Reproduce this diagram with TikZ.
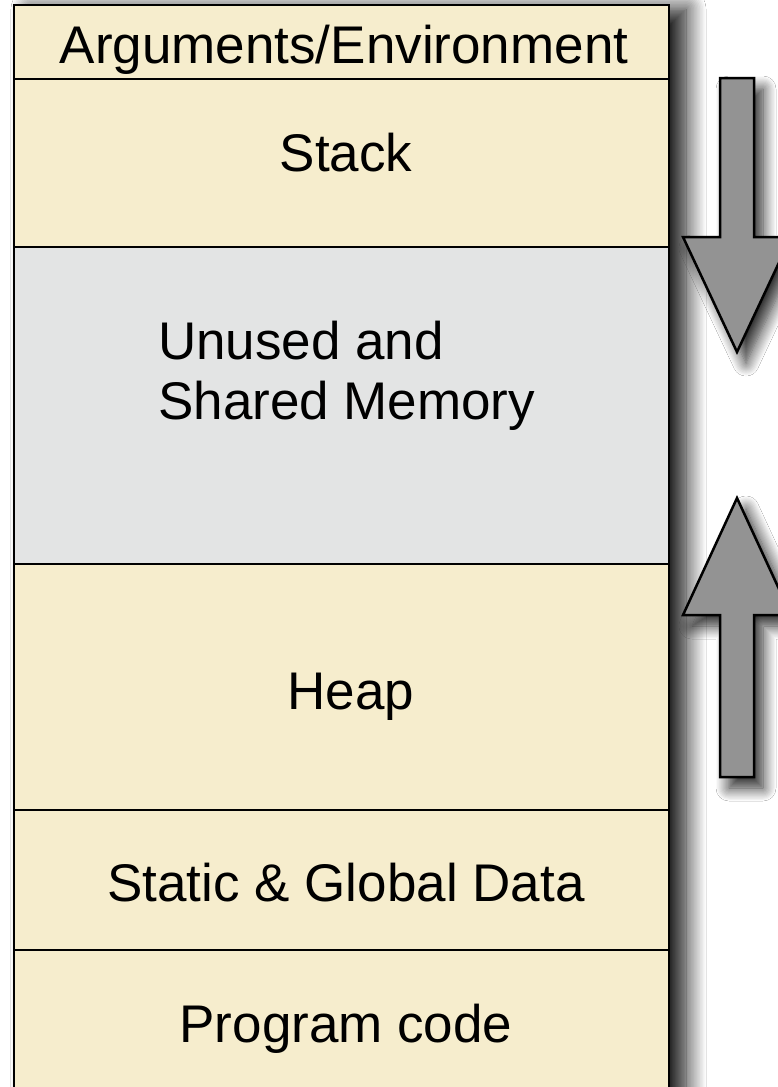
\documentclass[tikz,border=0pt]{standalone}
\usepackage{fontspec}
\setmainfont{Liberation Sans}
\usetikzlibrary{shadows.blur}
\definecolor{cream}{HTML}{F6EDCD}
\definecolor{unusedgray}{HTML}{E3E4E4}
\definecolor{arrowgray}{HTML}{939393}
\tikzset{
  x=1pt, y=-1pt,
  region/.style={draw=black, line width=2.5pt},
  lbl/.style={font=\fontsize{53}{60}\selectfont, inner sep=0pt, anchor=base},
  bigarrow/.style={fill=arrowgray, draw=black, line width=2.5pt, line join=miter,
    blur shadow={shadow xshift=9pt, shadow yshift=-11pt, shadow blur radius=13pt, shadow blur steps=12, shadow opacity=85}},
}
\begin{document}
\begin{tikzpicture}
\useasboundingbox (0,0) rectangle (778,1087);
\fill[white] (0,0) rectangle (778,1087);
% shadow of the memory column
\path[fill=white, blur shadow={shadow xshift=17pt, shadow yshift=-4pt, shadow blur radius=20pt, shadow blur steps=14, shadow opacity=95}] (14,5) rectangle (669,1120);
% regions
\filldraw[region, fill=cream] (14,5) rectangle (669,79);
\filldraw[region, fill=cream] (14,79) rectangle (669,247);
\filldraw[region, fill=unusedgray] (14,247) rectangle (669,564);
\filldraw[region, fill=cream] (14,564) rectangle (669,810);
\filldraw[region, fill=cream] (14,810) rectangle (669,950);
\filldraw[region, fill=cream] (14,950) rectangle (669,1120);
% labels
\node[lbl] (args) at (344,63) {Arguments/Environment};
\node[lbl] (stack) at (346,171) {Stack};
\node[lbl, anchor=base west, align=left] (unused) at (158,419) {Unused and\\Shared Memory};
\node[lbl] (heap) at (351,709) {Heap};
\node[lbl] (static) at (346,901) {Static \& Global Data};
\node[lbl] (code) at (346,1042) {Program code};
% growth arrows
\draw[bigarrow] (720,78) -- (754,78) -- (754,237) -- (791,237) -- (737,352) -- (683,237) -- (720,237) -- cycle;
\draw[bigarrow] (720,777) -- (754,777) -- (754,615) -- (791,615) -- (737,498) -- (683,615) -- (720,615) -- cycle;
\end{tikzpicture}
\end{document}
